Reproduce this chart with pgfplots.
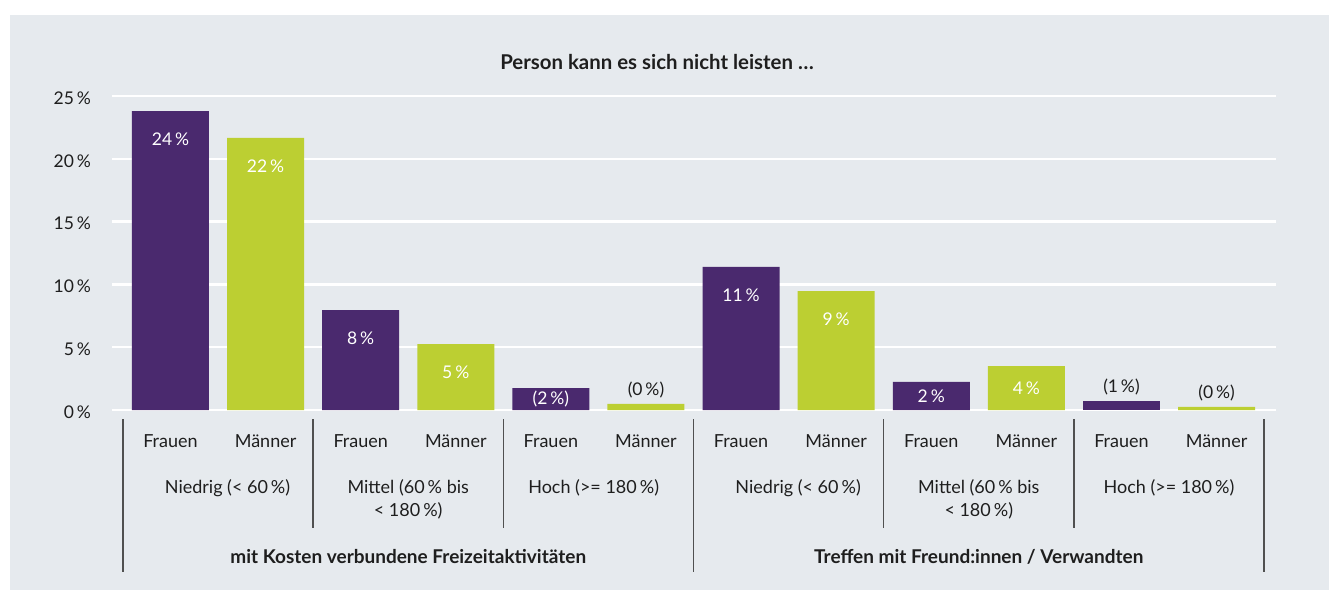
\documentclass[border=0pt]{standalone}
\usepackage{fontspec}
\setmainfont{Lato}
\usepackage{pgfplots}
\pgfplotsset{compat=1.18}
\definecolor{lila}{HTML}{4A296E}
\definecolor{gruen}{HTML}{BCCF32}
\definecolor{bg}{HTML}{E6EAEE}
\definecolor{txt}{HTML}{1E1E1E}
\definecolor{sep}{HTML}{505050}
\newcommand\f{\fontsize{9}{10.5}\selectfont}
\newcommand\ft{\fontsize{8.75}{10.5}\selectfont}
\tikzset{lab/.style={font=\f, text=txt}}
\begin{document}
\begin{tikzpicture}
\fill[white] (-56pt,-90pt) rectangle (608.5pt,205pt);
\path[use as bounding box] (-56pt,-90pt) rectangle (608.5pt,205pt);
\fill[bg] (-51pt,-90pt) rectangle (608.5pt,197.5pt);
\begin{axis}[
  scale only axis, width=582pt, height=157pt,
  xmin=-0.615, xmax=11.625, ymin=0, ymax=25,
  axis line style={draw=none},
  major tick length=0pt,
  xtick=\empty,
  ytick={0,5,...,25},
  ymajorgrids, grid style={white, line width=1.2pt},
  yticklabel={\pgfmathprintnumber{\tick}\,\%},
  /pgf/number format/assume math mode=true,
  yticklabel style={font=\ft, text=txt, xshift=-7pt, yshift=-1pt},
  ybar, bar width=38.5pt, bar shift=0pt,
  clip=false,
  nodes near coords, point meta=explicit symbolic,
  every node near coord/.append style={font=\ft, anchor=center},
  visualization depends on={y \as \rawy},
  inside/.style={nodes near coords style={text=white, yshift={-1pt*min(14,\rawy*3.14)}}},
  above/.style={nodes near coords style={text=txt, yshift=7pt}},
]
\addplot[fill=lila, draw=none, inside] coordinates {(0,23.8)[24\,\%] (2,7.96)[8\,\%] (4,1.75)[{(2\,\%)}] (6,11.39)[11\,\%] (8,2.23)[2\,\%]};
\addplot[fill=lila, draw=none, above] coordinates {(10,0.72)[{(1\,\%)}]};
\addplot[fill=gruen, draw=none, inside] coordinates {(1,21.66)[22\,\%] (3,5.25)[5\,\%] (7,9.47)[9\,\%] (9,3.5)[4\,\%]};
\addplot[fill=gruen, draw=none, above] coordinates {(5,0.48)[{(0\,\%)}] (11,0.24)[{(0\,\%)}]};
\pgfplotsinvokeforeach{0,2,4,6,8,10}{\node[lab] at (axis cs:#1,0) [yshift=-15.5pt] {Frauen};}
\pgfplotsinvokeforeach{1,3,5,7,9,11}{\node[lab] at (axis cs:#1,0) [yshift=-15.5pt] {Männer};}
\pgfplotsinvokeforeach{0.6,6.6}{\node[lab] at (axis cs:#1,0) [yshift=-39pt] {Niedrig (< 60\,\%)};}
\pgfplotsinvokeforeach{2.5,8.5}{\node[lab] at (axis cs:#1,0) [yshift=-39pt] {Mittel (60\,\% bis};
  \node[lab] at (axis cs:#1,0) [yshift=-50.5pt] {< 180\,\%)};}
\pgfplotsinvokeforeach{4.45,10.5}{\node[lab] at (axis cs:#1,0) [yshift=-39pt] {Hoch (>= 180\,\%)};}
\node[text=txt, font=\fontsize{9.5}{11}\selectfont\bfseries] at (axis cs:2.5,0) [yshift=-73.5pt] {mit Kosten verbundene Freizeitaktivitäten};
\node[text=txt, font=\fontsize{9.5}{11}\selectfont\bfseries] at (axis cs:8.5,0) [yshift=-73.5pt] {Treffen mit Freund:innen / Verwandten};
\pgfplotsinvokeforeach{-0.5,5.5,11.5}{\draw[sep, line width=0.75pt] (axis cs:#1,0) ++(0pt,-4.5pt) -- ++(0pt,-76.5pt);}
\pgfplotsinvokeforeach{1.5,3.5,7.5,9.5}{\draw[sep, line width=0.75pt] (axis cs:#1,0) ++(0pt,-4.5pt) -- ++(0pt,-54.5pt);}
\end{axis}
\node[font=\fontsize{10.2}{12}\selectfont\bfseries, text=txt] at (272.5pt,174pt) {Person kann es sich nicht leisten …};
\end{tikzpicture}
\end{document}
